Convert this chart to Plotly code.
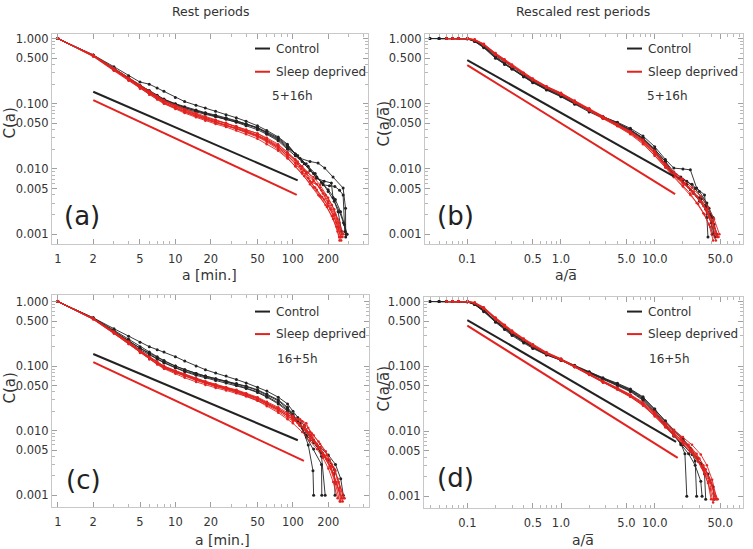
import plotly.graph_objects as go

# ---------------- data ----------------
# Left panels (rest periods, a in minutes): shared body grid + per-curve tails
A_BODY = [1, 2, 3, 4, 5, 6, 7, 8, 10, 12, 15, 18, 22, 27, 33, 40, 50, 60, 75, 90]

A_CTRL_BODY = [
    [1, 0.56, 0.37, 0.27, 0.215, 0.2, 0.175, 0.155, 0.125, 0.108, 0.095, 0.086, 0.077, 0.068, 0.061, 0.054, 0.046, 0.039, 0.031, 0.024],
    [1, 0.55, 0.34, 0.245, 0.185, 0.15, 0.128, 0.113, 0.097, 0.087, 0.078, 0.072, 0.066, 0.06, 0.054, 0.049, 0.043, 0.037, 0.03, 0.023],
    [1, 0.54, 0.33, 0.24, 0.18, 0.145, 0.124, 0.11, 0.094, 0.084, 0.075, 0.069, 0.063, 0.058, 0.053, 0.048, 0.042, 0.035, 0.028, 0.021],
    [1, 0.55, 0.35, 0.25, 0.19, 0.155, 0.132, 0.116, 0.099, 0.088, 0.078, 0.071, 0.065, 0.059, 0.052, 0.046, 0.04, 0.034, 0.027, 0.02],
    [1, 0.56, 0.35, 0.25, 0.19, 0.16, 0.135, 0.118, 0.1, 0.09, 0.08, 0.073, 0.067, 0.061, 0.055, 0.049, 0.043, 0.036, 0.029, 0.022],
]
A_CTRL_TAIL_X = [
    [105, 115, 140, 164, 187, 220, 268, 281, 282],
    [110, 130, 155, 181, 205, 228, 250, 268, 277],
    [110, 135, 159, 185, 213, 220, 243, 260],
    [105, 120, 140, 160, 180, 200, 225, 250, 270, 285],
    [105, 125, 150, 175, 200, 230, 255, 275, 290],
]
A_CTRL_TAIL_Y = [
    [0.017, 0.0146, 0.013, 0.0123, 0.0103, 0.0075, 0.0051, 0.0025, 0.0009],
    [0.016, 0.012, 0.0085, 0.0057, 0.0055, 0.0054, 0.0047, 0.004, 0.0011],
    [0.016, 0.011, 0.0072, 0.0065, 0.0061, 0.0036, 0.0022, 0.0011],
    [0.016, 0.013, 0.0095, 0.0075, 0.006, 0.0045, 0.0032, 0.0022, 0.0015, 0.001],
    [0.017, 0.012, 0.0085, 0.0062, 0.0048, 0.0034, 0.0022, 0.0014, 0.001],
]
A_SD_BODY = [
    [1, 0.55, 0.34, 0.24, 0.185, 0.15, 0.127, 0.11, 0.092, 0.08, 0.068, 0.06, 0.053, 0.047, 0.042, 0.037, 0.032, 0.027, 0.021, 0.016],
    [1, 0.54, 0.33, 0.23, 0.175, 0.14, 0.118, 0.102, 0.085, 0.074, 0.064, 0.057, 0.051, 0.046, 0.041, 0.036, 0.031, 0.026, 0.02, 0.015],
    [1, 0.56, 0.35, 0.25, 0.19, 0.155, 0.13, 0.113, 0.095, 0.083, 0.072, 0.064, 0.057, 0.051, 0.045, 0.04, 0.035, 0.03, 0.024, 0.018],
    [1, 0.55, 0.335, 0.235, 0.18, 0.145, 0.122, 0.105, 0.087, 0.076, 0.066, 0.059, 0.053, 0.048, 0.043, 0.038, 0.033, 0.028, 0.022, 0.017],
    [1, 0.55, 0.34, 0.24, 0.18, 0.148, 0.125, 0.108, 0.09, 0.078, 0.068, 0.061, 0.055, 0.05, 0.045, 0.04, 0.035, 0.029, 0.023, 0.018],
    [1, 0.53, 0.32, 0.225, 0.17, 0.138, 0.116, 0.1, 0.083, 0.072, 0.062, 0.055, 0.049, 0.044, 0.039, 0.034, 0.029, 0.024, 0.019, 0.0145],
    [1, 0.55, 0.345, 0.245, 0.185, 0.152, 0.128, 0.111, 0.093, 0.081, 0.07, 0.062, 0.056, 0.05, 0.044, 0.039, 0.033, 0.028, 0.022, 0.017],
    [1, 0.54, 0.33, 0.235, 0.178, 0.145, 0.121, 0.104, 0.087, 0.075, 0.065, 0.058, 0.052, 0.047, 0.042, 0.037, 0.032, 0.027, 0.021, 0.016],
]
A_SD_TAIL_X = [
    [105, 120, 140, 160, 185, 210, 235, 255],
    [105, 125, 150, 170, 195, 220, 240, 250],
    [105, 115, 130, 150, 170, 190, 215, 240, 262],
    [110, 125, 145, 160, 180, 200, 225, 245, 258],
    [105, 120, 135, 150, 175, 200, 230, 265],
    [105, 120, 140, 165, 190, 215, 235, 248],
    [110, 130, 150, 170, 200, 225, 250, 270],
    [105, 118, 135, 155, 178, 200, 222, 245, 260],
]
A_SD_TAIL_Y = [
    [0.012, 0.009, 0.0065, 0.0048, 0.0034, 0.0024, 0.0015, 0.0009],
    [0.011, 0.0078, 0.0052, 0.0038, 0.0026, 0.0017, 0.0011, 0.0008],
    [0.014, 0.011, 0.0085, 0.0065, 0.0052, 0.004, 0.0028, 0.0017, 0.001],
    [0.012, 0.0095, 0.0062, 0.0058, 0.0042, 0.003, 0.002, 0.0013, 0.0008],
    [0.014, 0.011, 0.0088, 0.0068, 0.0047, 0.0032, 0.002, 0.0009],
    [0.011, 0.0085, 0.0058, 0.004, 0.0028, 0.0019, 0.0013, 0.0009],
    [0.013, 0.009, 0.0075, 0.0057, 0.0036, 0.0024, 0.0015, 0.001],
    [0.0125, 0.01, 0.0072, 0.0052, 0.0037, 0.0027, 0.0019, 0.0012, 0.0009],
]

C_CTRL_BODY = [
    [1, 0.56, 0.38, 0.29, 0.235, 0.2, 0.18, 0.165, 0.14, 0.12, 0.1, 0.088, 0.078, 0.07, 0.062, 0.055, 0.047, 0.041, 0.033, 0.026],
    [1, 0.55, 0.35, 0.25, 0.19, 0.16, 0.135, 0.12, 0.1, 0.088, 0.077, 0.07, 0.064, 0.059, 0.054, 0.049, 0.043, 0.037, 0.03, 0.023],
    [1, 0.55, 0.34, 0.245, 0.185, 0.155, 0.13, 0.115, 0.095, 0.084, 0.074, 0.068, 0.062, 0.057, 0.051, 0.046, 0.04, 0.034, 0.027, 0.021],
    [1, 0.54, 0.34, 0.24, 0.18, 0.15, 0.128, 0.112, 0.094, 0.082, 0.072, 0.066, 0.06, 0.055, 0.05, 0.045, 0.039, 0.033, 0.026, 0.02],
    [1, 0.56, 0.36, 0.26, 0.2, 0.165, 0.14, 0.122, 0.1, 0.088, 0.077, 0.07, 0.064, 0.058, 0.053, 0.048, 0.042, 0.036, 0.029, 0.022],
]
C_CTRL_TAIL_X = [
    [100, 110, 125, 140, 160, 175, 188],
    [100, 110, 120, 135, 148, 150],
    [100, 115, 130, 150, 175, 176],
    [100, 115, 130, 150, 175, 200, 225, 228],
    [100, 115, 130, 150, 170, 200, 230, 255, 268],
]
C_CTRL_TAIL_Y = [
    [0.02, 0.016, 0.012, 0.0085, 0.006, 0.004, 0.001],
    [0.018, 0.014, 0.011, 0.006, 0.0024, 0.001],
    [0.017, 0.012, 0.008, 0.0052, 0.003, 0.001],
    [0.016, 0.012, 0.0085, 0.0065, 0.0045, 0.0035, 0.0025, 0.001],
    [0.017, 0.013, 0.0095, 0.0072, 0.0055, 0.0042, 0.003, 0.0018, 0.001],
]
C_SD_BODY = [
    [1, 0.54, 0.33, 0.23, 0.17, 0.135, 0.113, 0.097, 0.082, 0.072, 0.062, 0.056, 0.05, 0.046, 0.042, 0.037, 0.032, 0.027, 0.022, 0.018],
    [1, 0.53, 0.32, 0.22, 0.16, 0.127, 0.106, 0.091, 0.076, 0.066, 0.057, 0.051, 0.046, 0.042, 0.038, 0.034, 0.029, 0.025, 0.02, 0.016],
    [1, 0.55, 0.34, 0.24, 0.175, 0.14, 0.117, 0.1, 0.085, 0.075, 0.065, 0.058, 0.052, 0.047, 0.042, 0.037, 0.032, 0.027, 0.022, 0.018],
    [1, 0.54, 0.325, 0.225, 0.165, 0.13, 0.108, 0.093, 0.079, 0.069, 0.06, 0.054, 0.048, 0.044, 0.04, 0.035, 0.03, 0.026, 0.021, 0.017],
    [1, 0.55, 0.335, 0.235, 0.172, 0.138, 0.116, 0.1, 0.085, 0.074, 0.064, 0.057, 0.051, 0.046, 0.041, 0.036, 0.031, 0.026, 0.021, 0.017],
    [1, 0.53, 0.32, 0.22, 0.162, 0.13, 0.109, 0.094, 0.08, 0.07, 0.061, 0.055, 0.049, 0.044, 0.039, 0.034, 0.029, 0.024, 0.019, 0.015],
    [1, 0.54, 0.33, 0.23, 0.168, 0.135, 0.113, 0.098, 0.083, 0.073, 0.064, 0.058, 0.052, 0.047, 0.043, 0.038, 0.033, 0.028, 0.023, 0.019],
    [1, 0.55, 0.34, 0.235, 0.17, 0.134, 0.111, 0.095, 0.081, 0.071, 0.062, 0.055, 0.049, 0.045, 0.041, 0.036, 0.031, 0.026, 0.021, 0.017],
]
C_SD_TAIL_X = [
    [100, 110, 125, 140, 160, 185, 210, 235, 260],
    [100, 115, 130, 140, 160, 180, 205, 230, 250],
    [100, 110, 125, 145, 165, 190, 215, 240, 270],
    [100, 115, 130, 150, 170, 195, 220, 245, 255],
    [100, 112, 125, 140, 155, 180, 205, 230, 250, 265],
    [100, 120, 140, 160, 180, 200, 220, 240],
    [100, 110, 120, 135, 150, 170, 195, 220, 245, 275],
    [100, 115, 130, 145, 165, 185, 210, 235, 258],
]
C_SD_TAIL_Y = [
    [0.016, 0.015, 0.012, 0.0085, 0.006, 0.0042, 0.0028, 0.0016, 0.0009],
    [0.014, 0.015, 0.013, 0.0095, 0.0062, 0.0042, 0.0028, 0.0015, 0.0008],
    [0.016, 0.013, 0.0105, 0.009, 0.0068, 0.0048, 0.003, 0.0018, 0.0009],
    [0.015, 0.012, 0.0095, 0.0068, 0.0055, 0.0036, 0.0022, 0.0012, 0.0008],
    [0.015, 0.013, 0.011, 0.0075, 0.0065, 0.0045, 0.0035, 0.0024, 0.0013, 0.0008],
    [0.013, 0.0095, 0.007, 0.0052, 0.0038, 0.0026, 0.0016, 0.0009],
    [0.017, 0.015, 0.014, 0.011, 0.0085, 0.0062, 0.0042, 0.0027, 0.0016, 0.0009],
    [0.015, 0.012, 0.01, 0.0078, 0.0055, 0.004, 0.0026, 0.0015, 0.0009],
]

# Right panels (rescaled, a / mean a)
R_BODY = [0.04, 0.05, 0.06, 0.07, 0.08, 0.1, 0.12, 0.15, 0.2, 0.25, 0.3, 0.4, 0.5, 0.7, 1.0, 1.4, 2.0, 2.8, 4.0, 5.5, 7.5, 10, 13]

B_CTRL_BODY = [
    [1, 1, 1, 1, 1, 0.99, 0.9, 0.72, 0.5, 0.4, 0.34, 0.26, 0.21, 0.165, 0.13, 0.1, 0.078, 0.063, 0.052, 0.042, 0.032, 0.022, 0.014],
    [None, 1, 1, 1, 1, 1, 0.93, 0.76, 0.53, 0.42, 0.35, 0.27, 0.22, 0.17, 0.135, 0.104, 0.08, 0.062, 0.05, 0.04, 0.029, 0.02, 0.013],
    [None, None, 1, 1, 1, 0.99, 0.91, 0.74, 0.51, 0.41, 0.34, 0.26, 0.215, 0.162, 0.128, 0.098, 0.075, 0.06, 0.048, 0.038, 0.028, 0.019, 0.012],
    [1, 1, 1, 1, 1, 1, 0.94, 0.78, 0.55, 0.44, 0.37, 0.28, 0.225, 0.175, 0.14, 0.107, 0.082, 0.064, 0.051, 0.04, 0.03, 0.02, 0.013],
    [None, 1, 1, 1, 1, 0.99, 0.92, 0.75, 0.52, 0.41, 0.35, 0.265, 0.215, 0.168, 0.133, 0.102, 0.078, 0.061, 0.049, 0.039, 0.029, 0.019, 0.012],
]
B_CTRL_TAIL_X = [
    [16, 20, 24, 28, 34, 36, 37],
    [16, 19, 22, 27, 32, 38, 42, 43],
    [15, 18, 22, 26, 30, 35, 40, 44],
    [16, 20, 25, 30, 36, 40, 41],
    [16, 20, 24, 30, 35, 39, 43, 46],
]
B_CTRL_TAIL_Y = [
    [0.0103, 0.01, 0.0097, 0.0051, 0.004, 0.0018, 0.0009],
    [0.009, 0.0075, 0.0065, 0.005, 0.0035, 0.0025, 0.0018, 0.001],
    [0.009, 0.0072, 0.0058, 0.0042, 0.0032, 0.0024, 0.0015, 0.0009],
    [0.008, 0.0068, 0.0058, 0.0045, 0.003, 0.0019, 0.001],
    [0.0085, 0.0062, 0.0048, 0.0036, 0.0027, 0.002, 0.0014, 0.001],
]
B_SD_BODY = [
    [None, None, 1, 1, 1, 1, 0.95, 0.8, 0.57, 0.46, 0.38, 0.29, 0.235, 0.18, 0.142, 0.108, 0.082, 0.062, 0.047, 0.036, 0.026, 0.017, 0.011],
    [None, None, None, 1, 1, 1, 0.96, 0.82, 0.59, 0.47, 0.39, 0.295, 0.24, 0.183, 0.145, 0.11, 0.083, 0.063, 0.048, 0.037, 0.027, 0.018, 0.0115],
    [None, None, 1, 1, 1, 0.99, 0.94, 0.79, 0.56, 0.45, 0.37, 0.285, 0.23, 0.177, 0.14, 0.106, 0.08, 0.06, 0.046, 0.035, 0.025, 0.016, 0.0105],
    [None, None, None, None, 1, 1, 0.97, 0.83, 0.6, 0.48, 0.4, 0.3, 0.245, 0.186, 0.147, 0.112, 0.085, 0.064, 0.049, 0.038, 0.028, 0.019, 0.012],
    [None, None, 1, 1, 1, 1, 0.95, 0.81, 0.58, 0.46, 0.385, 0.29, 0.235, 0.18, 0.143, 0.108, 0.081, 0.061, 0.047, 0.036, 0.026, 0.0175, 0.011],
    [None, None, None, 1, 1, 1, 0.96, 0.8, 0.57, 0.455, 0.375, 0.285, 0.232, 0.176, 0.138, 0.104, 0.079, 0.059, 0.045, 0.034, 0.024, 0.016, 0.0105],
    [None, None, 1, 1, 1, 0.99, 0.95, 0.8, 0.58, 0.465, 0.385, 0.292, 0.238, 0.182, 0.144, 0.109, 0.082, 0.062, 0.047, 0.036, 0.027, 0.018, 0.0115],
]
B_SD_TAIL_X = [
    [16, 20, 25, 30, 36, 42, 47],
    [16, 19, 23, 28, 33, 38, 44],
    [16, 20, 24, 28, 33, 38, 42],
    [16, 20, 25, 31, 37, 43, 49],
    [16, 21, 26, 32, 37, 43, 46],
    [16, 20, 24, 29, 34, 39, 45],
    [17, 21, 26, 31, 36, 41, 48],
]
B_SD_TAIL_Y = [
    [0.008, 0.006, 0.0045, 0.0033, 0.0023, 0.0015, 0.0009],
    [0.0085, 0.0068, 0.0052, 0.0038, 0.0027, 0.0018, 0.001],
    [0.0075, 0.0055, 0.0042, 0.003, 0.0021, 0.0014, 0.0008],
    [0.009, 0.007, 0.0052, 0.0038, 0.0026, 0.0017, 0.001],
    [0.008, 0.0058, 0.0042, 0.003, 0.0021, 0.0013, 0.0009],
    [0.0075, 0.0054, 0.004, 0.0029, 0.002, 0.0013, 0.0008],
    [0.0082, 0.006, 0.0045, 0.0032, 0.0024, 0.0016, 0.0009],
]

D_CTRL_BODY = [
    [1, 1, 1, 1, 1, 0.99, 0.9, 0.7, 0.48, 0.37, 0.3, 0.23, 0.19, 0.15, 0.125, 0.1, 0.08, 0.065, 0.053, 0.043, 0.032, 0.021, 0.013],
    [None, 1, 1, 1, 1, 0.99, 0.91, 0.72, 0.5, 0.39, 0.32, 0.245, 0.2, 0.155, 0.128, 0.102, 0.082, 0.066, 0.054, 0.044, 0.033, 0.022, 0.014],
    [None, None, 1, 1, 1, 0.99, 0.92, 0.73, 0.51, 0.4, 0.33, 0.25, 0.205, 0.16, 0.13, 0.104, 0.083, 0.067, 0.055, 0.045, 0.034, 0.022, 0.0145],
    [1, 1, 1, 1, 1, 1, 0.93, 0.74, 0.5, 0.39, 0.32, 0.24, 0.2, 0.157, 0.127, 0.101, 0.08, 0.064, 0.052, 0.042, 0.031, 0.02, 0.0125],
    [None, 1, 1, 1, 1, 0.99, 0.9, 0.71, 0.49, 0.38, 0.31, 0.238, 0.195, 0.152, 0.124, 0.099, 0.079, 0.063, 0.051, 0.041, 0.03, 0.019, 0.012],
]
D_CTRL_TAIL_X = [
    [16, 19, 21, 22],
    [16, 20, 24, 27, 28],
    [16, 20, 24, 29, 34, 35],
    [16, 19, 23, 27, 31, 32],
    [16, 20, 25, 31, 37, 42, 43],
]
D_CTRL_TAIL_Y = [
    [0.009, 0.0065, 0.0045, 0.001],
    [0.01, 0.0075, 0.0052, 0.0035, 0.001],
    [0.0105, 0.0078, 0.0055, 0.0038, 0.0022, 0.0009],
    [0.0085, 0.0062, 0.0045, 0.003, 0.0017, 0.001],
    [0.0085, 0.0062, 0.0044, 0.0032, 0.0022, 0.0014, 0.0009],
]
D_SD_BODY = [
    [None, None, 1, 1, 1, 1, 0.95, 0.78, 0.54, 0.42, 0.34, 0.26, 0.21, 0.16, 0.128, 0.099, 0.076, 0.058, 0.045, 0.035, 0.026, 0.018, 0.012],
    [None, None, None, 1, 1, 1, 0.96, 0.8, 0.56, 0.43, 0.35, 0.265, 0.215, 0.163, 0.13, 0.1, 0.077, 0.059, 0.046, 0.036, 0.027, 0.019, 0.013],
    [None, None, 1, 1, 1, 0.99, 0.94, 0.77, 0.53, 0.41, 0.335, 0.255, 0.205, 0.157, 0.125, 0.097, 0.074, 0.056, 0.044, 0.034, 0.025, 0.017, 0.0115],
    [None, None, None, None, 1, 1, 0.97, 0.82, 0.57, 0.44, 0.36, 0.27, 0.22, 0.166, 0.132, 0.102, 0.078, 0.06, 0.047, 0.037, 0.028, 0.02, 0.0135],
    [None, None, 1, 1, 1, 1, 0.95, 0.79, 0.55, 0.42, 0.345, 0.26, 0.212, 0.161, 0.128, 0.099, 0.075, 0.057, 0.045, 0.035, 0.026, 0.018, 0.012],
    [None, None, None, 1, 1, 1, 0.96, 0.79, 0.55, 0.425, 0.345, 0.262, 0.213, 0.162, 0.129, 0.1, 0.076, 0.058, 0.046, 0.036, 0.027, 0.019, 0.0125],
    [None, None, 1, 1, 1, 0.99, 0.95, 0.78, 0.54, 0.415, 0.338, 0.257, 0.208, 0.158, 0.126, 0.098, 0.075, 0.057, 0.044, 0.034, 0.025, 0.0175, 0.0118],
]
D_SD_TAIL_X = [
    [16, 20, 25, 30, 35, 40, 45],
    [16, 19, 23, 28, 33, 38, 44],
    [16, 20, 24, 29, 34, 39, 42],
    [16, 20, 25, 31, 36, 41, 46],
    [16, 20, 24, 28, 33, 37, 40],
    [16, 19, 23, 27, 32, 38, 43],
    [16, 20, 24, 29, 34, 40, 47],
]
D_SD_TAIL_Y = [
    [0.009, 0.0068, 0.0052, 0.0038, 0.0026, 0.0016, 0.0009],
    [0.01, 0.008, 0.0062, 0.0045, 0.003, 0.0019, 0.001],
    [0.0085, 0.0064, 0.0048, 0.0034, 0.0022, 0.0013, 0.0008],
    [0.0105, 0.0082, 0.0062, 0.0044, 0.003, 0.0018, 0.0009],
    [0.0092, 0.007, 0.0053, 0.0039, 0.0026, 0.0016, 0.0009],
    [0.0095, 0.0075, 0.0058, 0.0042, 0.0028, 0.0017, 0.0009],
    [0.0088, 0.0066, 0.005, 0.0036, 0.0025, 0.0016, 0.0009],
]

# Power-law guide lines (end points)
FIT_A_X = [2, 110];   FIT_A_CTRL = [0.153, 0.0067]; FIT_A_SD_X = [2, 108]; FIT_A_SD = [0.114, 0.0040]
FIT_B_X = [0.1, 16];  FIT_B_CTRL = [0.468, 0.0077]; FIT_B_SD_X = [0.1, 16.5]; FIT_B_SD = [0.392, 0.0041]
FIT_C_X = [2, 110];   FIT_C_CTRL = [0.154, 0.0071]; FIT_C_SD_X = [2, 124]; FIT_C_SD = [0.115, 0.0034]
FIT_D_X = [0.1, 16.9]; FIT_D_CTRL = [0.52, 0.0069]; FIT_D_SD_X = [0.1, 17.6]; FIT_D_SD = [0.425, 0.0039]

LEFT_XTICKS = [1, 2, 5, 10, 20, 50, 100, 200]
LEFT_XTEXT = ["1", "2", "5", "10", "20", "50", "100", "200"]
RIGHT_XTICKS = [0.1, 0.5, 1, 5, 10, 50]
RIGHT_XTEXT = ["0.1", "0.5", "1.0", "5.0", "10.0", "50.0"]
YTICKS = [1, 0.5, 0.1, 0.05, 0.01, 0.005, 0.001]
YTEXT = ["1.000", "0.500", "0.100", "0.050", "0.010", "0.005", "0.001"]
LEFT_XMINOR = [3, 4, 6, 7, 8, 9, 30, 40, 60, 70, 80, 90, 300, 400]
RIGHT_XMINOR = [0.04, 0.05, 0.06, 0.07, 0.08, 0.09, 0.2, 0.3, 0.4, 0.6, 0.7, 0.8, 0.9,
                2, 3, 4, 6, 7, 8, 9, 20, 30, 40, 60, 70, 80]
YMINOR = [0.2, 0.3, 0.4, 0.6, 0.7, 0.8, 0.9, 0.02, 0.03, 0.04, 0.06, 0.07, 0.08, 0.09,
          0.002, 0.003, 0.004, 0.006, 0.007, 0.008, 0.009]

BLACK = "#222222"
RED = "#e2231f"
FONT = "DejaVu Sans"
W, H = 753, 549

fig = go.Figure()


def add_bundle(body_x, bodies, tails_x, tails_y, color, ax, msize):
    for body, tx, ty in zip(bodies, tails_x, tails_y):
        fig.add_trace(go.Scatter(
            x=list(body_x) + list(tx), y=list(body) + list(ty),
            mode="lines+markers", xaxis="x" + ax, yaxis="y" + ax,
            line=dict(color=color, width=0.9), marker=dict(color=color, size=msize),
            showlegend=False, hoverinfo="x+y"))


def add_fit(xs, ys, color, ax):
    fig.add_trace(go.Scatter(x=xs, y=ys, mode="lines", xaxis="x" + ax, yaxis="y" + ax,
                             line=dict(color=color, width=2), showlegend=False))


panels = [
    ("", A_BODY, A_CTRL_BODY, A_CTRL_TAIL_X, A_CTRL_TAIL_Y, A_SD_BODY, A_SD_TAIL_X, A_SD_TAIL_Y,
     FIT_A_X, FIT_A_CTRL, FIT_A_SD_X, FIT_A_SD),
    ("2", R_BODY, B_CTRL_BODY, B_CTRL_TAIL_X, B_CTRL_TAIL_Y, B_SD_BODY, B_SD_TAIL_X, B_SD_TAIL_Y,
     FIT_B_X, FIT_B_CTRL, FIT_B_SD_X, FIT_B_SD),
    ("3", A_BODY, C_CTRL_BODY, C_CTRL_TAIL_X, C_CTRL_TAIL_Y, C_SD_BODY, C_SD_TAIL_X, C_SD_TAIL_Y,
     FIT_C_X, FIT_C_CTRL, FIT_C_SD_X, FIT_C_SD),
    ("4", R_BODY, D_CTRL_BODY, D_CTRL_TAIL_X, D_CTRL_TAIL_Y, D_SD_BODY, D_SD_TAIL_X, D_SD_TAIL_Y,
     FIT_D_X, FIT_D_CTRL, FIT_D_SD_X, FIT_D_SD),
]
for (ax, bx, cb, ctx, cty, sb, stx, sty, fx, fc, fsx, fs) in panels:
    add_bundle(bx, cb, ctx, cty, BLACK, ax, 3)
    add_bundle(bx, sb, stx, sty, RED, ax, 2.5)
    add_fit(fx, fc, BLACK, ax)
    add_fit(fsx, fs, RED, ax)


def px(x):
    return x / W


def py(y):
    return 1 - y / H


def xaxis(domain, rng, vals, text, minor, anchor):
    return dict(type="log", domain=domain, range=rng, tickvals=vals, ticktext=text,
                ticks="inside", ticklen=5, tickcolor="#a0a0a0", showline=True,
                linecolor="#c8c8c8", linewidth=1, mirror="allticks", showgrid=False,
                zeroline=False, anchor=anchor, ticklabelstandoff=4,
                tickfont=dict(family=FONT, size=11.5, color="#333"),
                minor=dict(tickvals=minor, ticks="inside", ticklen=3, tickcolor="#b8b8b8"))


def yaxis(domain, rng, anchor):
    return dict(type="log", domain=domain, range=rng, tickvals=YTICKS, ticktext=YTEXT,
                ticks="inside", ticklen=5, tickcolor="#a0a0a0", showline=True,
                linecolor="#c8c8c8", linewidth=1, mirror="allticks", showgrid=False,
                zeroline=False, anchor=anchor,
                tickfont=dict(family=FONT, size=11.5, color="#333"),
                minor=dict(tickvals=YMINOR, ticks="inside", ticklen=3, tickcolor="#b8b8b8"))


fig.update_layout(
    width=W, height=H, margin=dict(l=0, r=0, t=0, b=0),
    paper_bgcolor="white", plot_bgcolor="white", showlegend=False,
    font=dict(family=FONT, color="#333"),
    xaxis=xaxis([px(52), px(368)], [-0.05, 2.64], LEFT_XTICKS, LEFT_XTEXT, LEFT_XMINOR, "y"),
    yaxis=yaxis([py(243), py(32)], [-3.153, 0.072], "x"),
    xaxis2=xaxis([px(425), px(743)], [-1.451, 1.942], RIGHT_XTICKS, RIGHT_XTEXT, RIGHT_XMINOR, "y2"),
    yaxis2=yaxis([py(243), py(32)], [-3.153, 0.072], "x2"),
    xaxis3=xaxis([px(52), px(369)], [-0.05, 2.647], LEFT_XTICKS, LEFT_XTEXT, LEFT_XMINOR, "y3"),
    yaxis3=yaxis([py(507), py(294)], [-3.185, 0.103], "x3"),
    xaxis4=xaxis([px(424), px(743)], [-1.462, 1.942], RIGHT_XTICKS, RIGHT_XTEXT, RIGHT_XMINOR, "y4"),
    yaxis4=yaxis([py(508), py(296)], [-3.184, 0.072], "x4"),
)

ann = []
shapes = []


def text(x, y, s, size, xanchor="center", angle=0, color="#333"):
    ann.append(dict(x=px(x), y=py(y), xref="paper", yref="paper", text=s, showarrow=False,
                    xanchor=xanchor, yanchor="middle", textangle=angle,
                    font=dict(family=FONT, size=size, color=color)))


# column titles
text(211, 10, "Rest periods", 12.5)
text(583, 10, "Rescaled rest periods", 12.5)
# axis titles
ABAR = "a\u0305"
text(210, 274, "a [min.]", 14)
text(566, 274, "a/" + ABAR, 14)
text(222, 540, "a [min.]", 14)
text(583, 540, "a/" + ABAR, 14)
text(10, 122, "C(a)", 15, angle=-90)
text(384, 122, "C(a/" + ABAR + ")", 15, angle=-90)
text(10, 388, "C(a)", 15, angle=-90)
text(384, 388, "C(a/" + ABAR + ")", 15, angle=-90)
# panel letters
text(82, 215, "(a)", 26, color="#222")
text(455, 215, "(b)", 26, color="#222")
text(83, 480, "(c)", 26, color="#222")
text(455, 478, "(d)", 26, color="#222")

# legends
legends = [(255, 274, 46.7, 70, 270, 94, "5+16h"),
           (627, 646, 46.7, 70, 645, 94, "5+16h"),
           (255, 274, 310.7, 333.3, 275, 358.3, "16+5h"),
           (627, 646, 310.7, 333.3, 647, 358.3, "16+5h")]
for (lx, tx, y1, y2, cx, cy, cond) in legends:
    for (yy, col, lab) in [(y1, BLACK, "Control"), (y2, RED, "Sleep deprived")]:
        shapes.append(dict(type="line", xref="paper", yref="paper",
                           x0=px(lx), x1=px(lx + 15), y0=py(yy), y1=py(yy),
                           line=dict(color=col, width=2)))
        text(tx, yy, lab, 12, xanchor="left")
    text(cx, cy, cond, 12, xanchor="left")

fig.update_layout(annotations=ann, shapes=shapes)
fig.write_html("out.html")
